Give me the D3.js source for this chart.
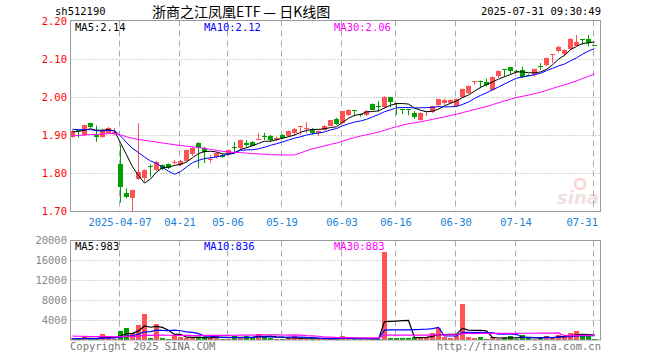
<!DOCTYPE html>
<html><head><meta charset="utf-8">
<script src="https://cdn.jsdelivr.net/npm/d3@7"></script>
<style>
html,body{margin:0;padding:0;background:#fff;}
svg{display:block;}
text{font-family:"DejaVu Sans Mono",monospace;}
</style></head>
<body>
<svg id="c" width="660" height="360"></svg>
<script>
// ---------- data ----------
const dates = ["03-25","03-26","03-27","03-28","03-31","04-01","04-02","04-03","04-07","04-08","04-09","04-10","04-11","04-14","04-15","04-16","04-17","04-18","04-21","04-22","04-23","04-24","04-25","04-28","04-29","04-30","05-06","05-07","05-08","05-09","05-12","05-13","05-14","05-15","05-16","05-19","05-20","05-21","05-22","05-23","05-26","05-27","05-28","05-29","05-30","06-03","06-04","06-05","06-06","06-09","06-10","06-11","06-12","06-13","06-16","06-17","06-18","06-19","06-20","06-23","06-24","06-25","06-26","06-27","06-30","07-01","07-02","07-03","07-04","07-07","07-08","07-09","07-10","07-11","07-14","07-15","07-16","07-17","07-18","07-21","07-22","07-23","07-24","07-25","07-28","07-29","07-30","07-31"];
const open  = [1.895,1.912,1.900,1.931,1.900,1.896,1.906,1.905,1.823,1.747,1.735,1.784,1.786,1.819,1.808,1.821,1.823,1.827,1.821,1.832,1.849,1.880,1.865,1.835,1.843,1.848,1.850,1.869,1.865,1.878,1.882,1.888,1.898,1.897,1.887,1.900,1.897,1.905,1.922,1.917,1.917,1.905,1.914,1.925,1.943,1.932,1.953,1.965,1.954,1.952,1.982,1.976,1.973,1.999,1.985,1.969,1.968,1.957,1.939,1.963,1.960,1.979,1.983,1.984,1.976,2.001,2.010,2.041,2.043,2.040,2.018,2.056,2.074,2.078,2.069,2.071,2.059,2.058,2.081,2.084,2.111,2.121,2.112,2.126,2.135,2.153,2.153,2.136];
const high  = [1.913,1.915,1.927,1.932,1.925,1.917,1.921,1.918,1.874,1.760,1.756,1.931,1.810,1.823,1.832,1.823,1.825,1.835,1.834,1.862,1.869,1.881,1.869,1.847,1.855,1.850,1.862,1.882,1.888,1.887,1.884,1.904,1.906,1.900,1.896,1.902,1.912,1.918,1.923,1.934,1.918,1.912,1.926,1.940,1.945,1.963,1.967,1.965,1.956,1.966,1.983,1.989,2.002,2.000,1.985,1.969,1.969,1.963,1.960,1.964,1.977,1.995,1.995,1.994,1.996,2.022,2.031,2.042,2.043,2.048,2.054,2.070,2.074,2.079,2.072,2.080,2.060,2.075,2.089,2.104,2.112,2.135,2.126,2.155,2.163,2.153,2.163,2.136];
const low   = [1.893,1.893,1.898,1.919,1.882,1.893,1.904,1.899,1.722,1.733,1.700,1.782,1.777,1.790,1.806,1.807,1.810,1.822,1.818,1.830,1.845,1.812,1.826,1.827,1.838,1.840,1.846,1.852,1.862,1.867,1.870,1.888,1.887,1.882,1.884,1.889,1.895,1.898,1.900,1.905,1.900,1.898,1.912,1.923,1.927,1.930,1.950,1.949,1.948,1.950,1.965,1.962,1.970,1.973,1.953,1.955,1.952,1.942,1.937,1.950,1.958,1.975,1.980,1.982,1.974,1.998,2.008,2.033,2.023,2.027,2.016,2.050,2.053,2.060,2.063,2.050,2.055,2.053,2.071,2.081,2.089,2.118,2.107,2.124,2.133,2.137,2.133,2.134];
const close = [1.911,1.910,1.926,1.920,1.895,1.913,1.918,1.907,1.764,1.738,1.755,1.803,1.808,1.817,1.830,1.811,1.812,1.829,1.832,1.861,1.867,1.867,1.854,1.837,1.852,1.843,1.861,1.867,1.887,1.873,1.872,1.890,1.896,1.887,1.893,1.891,1.911,1.917,1.923,1.919,1.904,1.911,1.925,1.939,1.929,1.962,1.965,1.963,1.952,1.962,1.967,1.974,2.000,1.988,1.984,1.968,1.967,1.948,1.959,1.964,1.975,1.994,1.992,1.992,1.994,2.020,2.029,2.042,2.041,2.032,2.053,2.068,2.073,2.069,2.067,2.053,2.057,2.073,2.079,2.102,2.112,2.132,2.124,2.153,2.144,2.151,2.141,2.135];
const volume = [330,200,670,130,130,1200,600,270,1800,2470,1470,3070,5270,470,3270,470,270,1070,670,330,330,530,530,330,1070,200,200,800,330,800,530,1200,800,470,200,200,330,800,330,200,200,200,470,130,130,800,270,200,130,200,130,200,17670,470,470,470,470,670,330,670,1470,2330,670,470,800,7300,670,330,670,200,670,130,470,800,130,1000,330,130,600,800,400,1100,700,1330,1800,800,800,200];
// closes / volumes of the 29 sessions before the visible window (used only for moving averages)
const preClose = [1.880,1.884,1.889,1.886,1.882,1.887,1.888,1.884,1.879,1.883,1.888,1.886,1.882,1.887,1.890,1.884,1.887,1.905,1.912,1.918,1.921,1.925,1.918,1.924,1.922,1.905,1.910,1.900,1.915];
const preVolume = [900,1100,1300,800,1000,1200,950,1050,1150,900,1000,1100,850,1250,950,1000,1100,1050,900,1000,300,250,280,220,300,260,240,200,250];
const priceTicks = [2.20,2.10,2.00,1.90,1.80,1.70];
const volTicks = [20000,16000,12000,8000,4000];
const dateTickIdx = [8,18,26,35,45,54,64,74,87];
const dateTickLabels = ["2025-04-07","04-21","05-06","05-19","06-03","06-16","06-30","07-14","07-31"];
const maPeriods = [5,10,30];
const priceLegend = ["MA5:2.14","MA10:2.12","MA30:2.06"];
const volLegend = ["MA5:983","MA10:836","MA30:883"];
const titleCode = "sh512190";
const titleText = "浙商之江凤凰ETF — 日K线图";
const timeText = "2025-07-31 09:30:49";

// ---------- layout ----------
const svg = d3.select("#c");
const L = 70.5, R = 600.5, PT = 20.5, PB = 211, VT = 240.5, VB = 340;
const maColors = ["#000000","#0000ff","#ff00ff"];
const RED = "#ff5252", GREEN = "#00a000";
const x = d3.scaleLinear().domain([0, dates.length-1]).range([72, 72 + 6*(dates.length-1)]);
const y = d3.scaleLinear().domain([1.70, 2.20]).range([211, 21]);
const yv = d3.scaleLinear().domain([0, 20000]).range([340, 240]);

function ma(pre, arr, n){
  const all = pre.concat(arr), off = pre.length;
  return arr.map((_, i) => d3.mean(all.slice(off+i-n+1, off+i+1)));
}
const priceMA = maPeriods.map(n => ma(preClose, close, n));
const volMA = maPeriods.map(n => ma(preVolume, volume, n));

// header
svg.append("text").attr("x",55).attr("y",15).attr("font-size",10.5).attr("fill","#000").text(titleCode);
svg.append("text").attr("x",152).attr("y",17).attr("font-size",14).attr("fill","#000")
  .style("font-family","'Noto Sans CJK SC',sans-serif").text(titleText);
svg.append("text").attr("x",601).attr("y",15).attr("font-size",10.5).attr("text-anchor","end").attr("fill","#000").text(timeText);

// grids
const grid = svg.append("g");
priceTicks.slice(1,-1).forEach(t => {
  grid.append("line").attr("x1",L).attr("x2",R).attr("y1",Math.round(y(t))+0.5).attr("y2",Math.round(y(t))+0.5)
    .attr("stroke","#aaa").attr("stroke-dasharray","1,2");
});
volTicks.slice(1).forEach(t => {
  grid.append("line").attr("x1",L).attr("x2",R).attr("y1",Math.round(yv(t))+0.5).attr("y2",Math.round(yv(t))+0.5)
    .attr("stroke","#aaa").attr("stroke-dasharray","1,2");
});
dateTickIdx.forEach(i => {
  const gx = Math.round(x(i)) - 0.5;
  [[PT,PB],[VT,VB]].forEach(([a,b]) => {
    grid.append("line").attr("x1",gx).attr("x2",gx).attr("y1",a).attr("y2",b)
      .attr("stroke","#aaa").attr("stroke-dasharray","6,4");
  });
});

// watermark
const wm = svg.append("g").attr("opacity",0.3);
wm.append("text").attr("x",578).attr("y",204).attr("text-anchor","middle").attr("font-size",18)
  .attr("font-style","italic").attr("font-weight","bold").attr("fill","#c99")
  .style("font-family","'DejaVu Sans',sans-serif").text("sina");
wm.append("circle").attr("cx",580).attr("cy",184).attr("r",5).attr("fill","none").attr("stroke","#e77").attr("stroke-width",2.5);

// candles
const cg = svg.append("g");
close.forEach((c, i) => {
  const o = open[i], up = c >= o, col = up ? RED : GREEN;
  const cx = Math.round(x(i)) + 0.5;
  cg.append("line").attr("x1",cx).attr("x2",cx).attr("y1",y(high[i])).attr("y2",y(low[i])).attr("stroke",col).attr("stroke-width",1);
  const top = Math.round(y(Math.max(o,c))), bot = Math.round(y(Math.min(o,c)));
  cg.append("rect").attr("x",cx-2.5).attr("y",top).attr("width",5).attr("height",Math.max(1,bot-top)).attr("fill",col);
});

// MA lines
maPeriods.forEach((n, k) => {
  svg.append("path").datum(priceMA[k]).attr("fill","none").attr("stroke",maColors[k]).attr("stroke-width",1)
    .attr("d", d3.line().x((d,i)=>x(i)+0.5).y(d=>y(d)));
});

// volume bars
const vg = svg.append("g");
volume.forEach((v, i) => {
  const col = close[i] >= open[i] ? RED : GREEN;
  const cx = Math.round(x(i)) + 0.5;
  const top = Math.round(yv(v));
  vg.append("rect").attr("x",cx-2.5).attr("y",top).attr("width",5).attr("height",Math.max(1,340-top)).attr("fill",col);
});
maPeriods.forEach((n, k) => {
  svg.append("path").datum(volMA[k]).attr("fill","none").attr("stroke",maColors[k]).attr("stroke-width",1.2)
    .attr("d", d3.line().x((d,i)=>x(i)+0.5).y(d=>yv(d)));
});

// frames
svg.append("rect").attr("x",L).attr("y",PT).attr("width",R-L).attr("height",PB-PT+0.5).attr("fill","none").attr("stroke","#999");
svg.append("rect").attr("x",L).attr("y",VT).attr("width",R-L).attr("height",VB-VT).attr("fill","none").attr("stroke","#999");

// axis labels
priceTicks.forEach(t => {
  svg.append("text").attr("x",67).attr("y",y(t)+4).attr("text-anchor","end").attr("font-size",10.5).attr("fill","#f00").text(t.toFixed(2));
});
volTicks.forEach(t => {
  svg.append("text").attr("x",67).attr("y",yv(t)+4).attr("text-anchor","end").attr("font-size",10.5).attr("fill","#888").text(t);
});
dateTickIdx.forEach((i, k) => {
  const t = svg.append("text").attr("y",226).attr("font-size",10.5).attr("fill","#1a7fd4").text(dateTickLabels[k]);
  const w = t.node().getComputedTextLength();
  let cx = x(i);
  if (cx + w/2 > 598) cx = 598 - w/2;
  t.attr("x", cx).attr("text-anchor","middle");
});

// legends
const lx = [75, 204, 334];
priceLegend.forEach((t,k)=> svg.append("text").attr("x",lx[k]).attr("y",31).attr("font-size",10.5).attr("fill",maColors[k]).text(t));
volLegend.forEach((t,k)=> svg.append("text").attr("x",lx[k]).attr("y",250).attr("font-size",10.5).attr("fill",maColors[k]).text(t));

// footer
svg.append("text").attr("x",70).attr("y",350).attr("font-size",10.5).attr("fill","#777").text("Copyright 2025 SINA.COM");
svg.append("text").attr("x",601).attr("y",350).attr("text-anchor","end").attr("font-size",10.5).attr("fill","#777").text("http://finance.sina.com.cn");
</script>
</body></html>
